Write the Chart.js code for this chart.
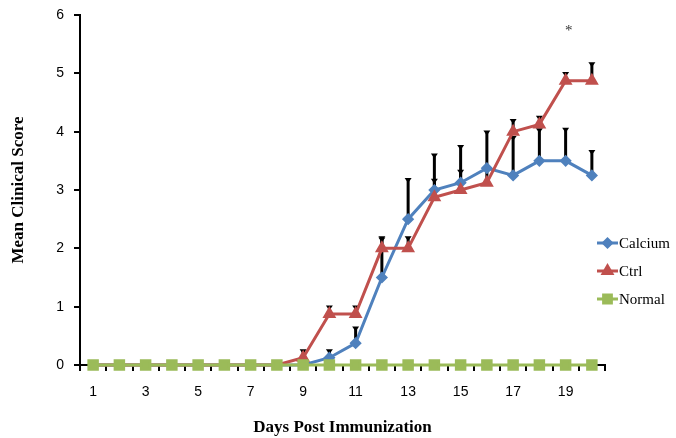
<!DOCTYPE html>
<html><head><meta charset="utf-8">
<script src="https://cdn.jsdelivr.net/npm/chart.js@4.4.0/dist/chart.umd.min.js"></script>
<style>html,body{margin:0;padding:0;background:#fff}canvas{display:block}</style>
</head><body>
<canvas id="c" width="676" height="438"></canvas>
<script>
const days = ['1','2','3','4','5','6','7','8','9','10','11','12','13','14','15','16','17','18','19','20'];
const calcium = [0,0,0,0,0,0,0,0,0,0.125,0.375,1.5,2.5,3.0,3.125,3.375,3.25,3.5,3.5,3.25];
const ctrl    = [0,0,0,0,0,0,0,0,0.125,0.875,0.875,2.0,2.0,2.875,3.0,3.125,4.0,4.125,4.875,4.875];
const normal  = [0,0,0,0,0,0,0,0,0,0,0,0,0,0,0,0,0,0,0,0];
const calciumErr = [0,0,0,0,0,0,0,0,0,0.13,0.27,0.67,0.69,0.61,0.63,0.63,0.66,0.54,0.55,0.42];
const ctrlErr    = [0,0,0,0,0,0,0,0,0.13,0.13,0.13,0.19,0.19,0.3,0.33,0.25,0.2,0.13,0.13,0.3];
const yTicks = [0,1,2,3,4,5,6];
const starDay = '19';
const starValue = 5.72;

const BLUE = '#4F81BD', RED = '#C0504D', GREEN = '#9BBB59';

const errorBars = {
  id: 'errorBars',
  beforeDatasetsDraw(chart) {
    const ctx = chart.ctx, y = chart.scales.y;
    const sets = [[0, calcium, calciumErr], [1, ctrl, ctrlErr]];
    ctx.save();
    ctx.strokeStyle = '#000'; ctx.fillStyle = '#000';
    for (const [di, vals, errs] of sets) {
      const meta = chart.getDatasetMeta(di);
      meta.data.forEach((pt, i) => {
        if (!errs[i]) return;
        const x = pt.x, y0 = y.getPixelForValue(vals[i]), y1 = y.getPixelForValue(vals[i] + errs[i]);
        ctx.lineWidth = 3;
        ctx.beginPath(); ctx.moveTo(x, y0); ctx.lineTo(x, y1); ctx.stroke();
        ctx.beginPath();
        ctx.moveTo(x - 3.5, y1 - 1); ctx.lineTo(x + 3.5, y1 - 1); ctx.lineTo(x, y1 + 4); ctx.closePath(); ctx.fill();
      });
    }
    ctx.restore();
  }
};

const extras = {
  id: 'extras',
  afterDraw(chart) {
    const ctx = chart.ctx;
    const xs = chart.scales.x, ys = chart.scales.y;
    ctx.save();
    ctx.fillStyle = '#333';
    ctx.font = '15px "Liberation Serif"';
    ctx.textAlign = 'center'; ctx.textBaseline = 'middle';
    ctx.fillText('*', xs.getPixelForValue(days.indexOf(starDay)) + 3, ys.getPixelForValue(starValue));
    // legend
    const items = [[0, 243], [1, 271], [2, 299]];
    ctx.textAlign = 'left';
    ctx.fillStyle = '#000';
    ctx.font = '15px "Liberation Serif"';
    for (const [di, ly] of items) {
      const ds = chart.data.datasets[di];
      ctx.strokeStyle = ds.borderColor; ctx.lineWidth = 3;
      ctx.beginPath(); ctx.moveTo(597, ly); ctx.lineTo(618, ly); ctx.stroke();
      Chart.helpers.drawPoint(ctx, {pointStyle: ds.pointStyle, radius: ds.legendRadius, borderWidth: 1}, 607.5, ly);
      ctx.fillStyle = ds.pointBackgroundColor; ctx.fill();
      ctx.fillStyle = '#000';
      ctx.fillText(ds.label, 619, ly + 1);
    }
    ctx.restore();
  }
};

const hideZero = r => c => (c.raw === 0 ? 0 : r);

new Chart(document.getElementById('c'), {
  type: 'line',
  data: {
    labels: days,
    datasets: [
      {label: 'Calcium', data: calcium, borderColor: BLUE, backgroundColor: BLUE, pointBackgroundColor: BLUE, pointBorderColor: BLUE,
       pointStyle: 'rectRot', pointRadius: hideZero(4), legendRadius: 4, borderWidth: 3, order: 2, clip: false},
      {label: 'Ctrl', data: ctrl, borderColor: RED, backgroundColor: RED, pointBackgroundColor: RED, pointBorderColor: RED,
       pointStyle: 'triangle', pointRadius: hideZero(5), legendRadius: 5, borderWidth: 3, order: 1, clip: false},
      {label: 'Normal', data: normal, borderColor: GREEN, backgroundColor: GREEN, pointBackgroundColor: GREEN, pointBorderColor: GREEN,
       pointStyle: 'rect', pointRadius: 6, legendRadius: 5.5, borderWidth: 3, order: 0, clip: false}
    ]
  },
  options: {
    responsive: false, animation: false, devicePixelRatio: 1,
    layout: {padding: {left: 0, right: 71, top: 15, bottom: 0}},
    plugins: {legend: {display: false}, tooltip: {enabled: false}},
    elements: {line: {tension: 0}},
    scales: {
      x: {
        offset: true,
        grid: {drawOnChartArea: false, drawTicks: true, tickLength: 6, color: '#000', lineWidth: 2, offset: true},
        border: {display: true, color: '#000', width: 2},
        ticks: {autoSkip: false, maxRotation: 0, color: '#000', padding: 13, font: {family: '"Liberation Sans"', size: 14},
          callback: (v, i) => (i % 2 === 0 ? days[i] : '')},
        title: {display: true, text: 'Days Post Immunization', color: '#000', font: {family: '"Liberation Serif"', size: 17, weight: 'bold'}, padding: {top: 0, bottom: 0}},
        afterFit: s => { s.height = 73; s.paddingLeft = 0; s.paddingRight = 0; }
      },
      y: {
        min: 0, max: 6,
        afterBuildTicks: s => { s.ticks = yTicks.map(v => ({value: v})); },
        grid: {drawOnChartArea: false, drawTicks: true, tickLength: 6, color: '#000', lineWidth: 2},
        border: {display: true, color: '#000', width: 2},
        ticks: {color: '#000', padding: 10, font: {family: '"Liberation Sans"', size: 14}},
        title: {display: true, text: 'Mean Clinical Score', color: '#000', font: {family: '"Liberation Serif"', size: 17, weight: 'bold'}, padding: {top: 8, bottom: 0}},
        afterFit: s => { s.width = 80; s.paddingTop = 0; s.paddingBottom = 0; }
      }
    }
  },
  plugins: [errorBars, extras]
});
</script>
</body></html>
